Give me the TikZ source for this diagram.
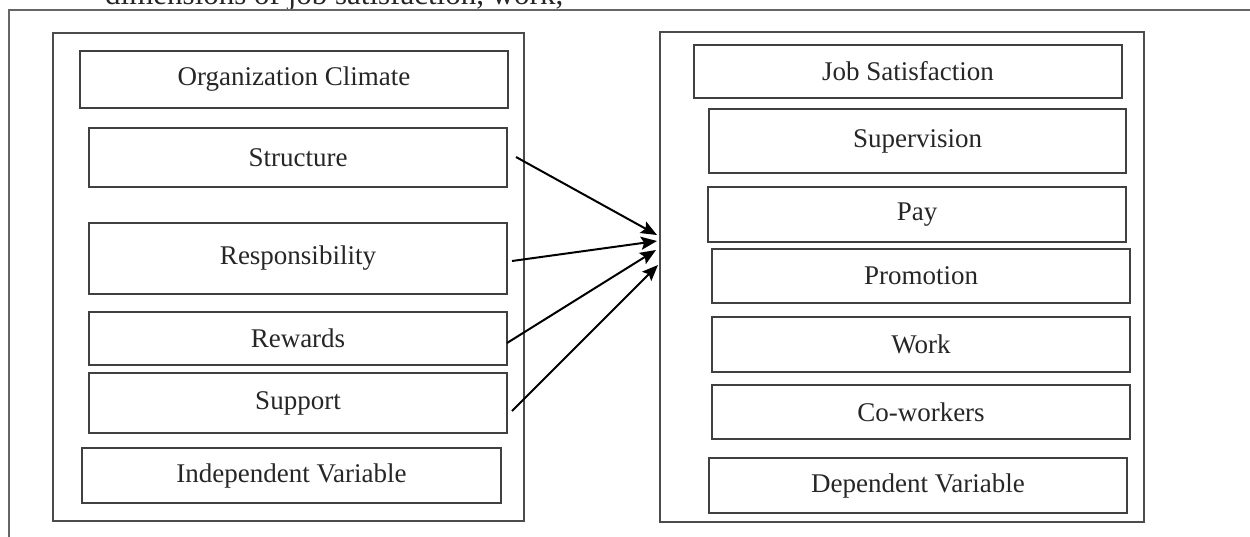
\documentclass[tikz,border=0pt]{standalone}
\usepackage{fontspec}
\setmainfont{Liberation Serif}
\usetikzlibrary{arrows.meta}
\begin{document}
\begin{tikzpicture}[x=1pt,y=-1pt,
  frame/.style={draw=black!70, line width=1.6pt, rectangle, inner sep=0pt, outer sep=0pt},
  box/.style={draw=black!75, line width=1.6pt, rectangle, inner sep=0pt, outer sep=0pt,
    font=\fontsize{27}{30}\selectfont, text=black!85},
  link/.style={draw=black, line width=2pt, -{Stealth[length=16pt,width=13pt,inset=3pt]}}]
\clip (0,0) rectangle (1250,536);
\useasboundingbox (0,0) rectangle (1250,536);
% page fragment
\node[anchor=base west, inner sep=0pt, font=\fontsize{31}{34}\selectfont, text=black!85] (cap) at (105,4.5) {dimensions of job satisfaction, work,};
\draw[black!60, line width=1.5pt] (9,540) -- (9,10) -- (1260,10);
% containers
\node[frame, minimum width=471pt, minimum height=488pt] (leftframe) at (288.5,277) {};
\node[frame, minimum width=484pt, minimum height=490pt] (rightframe) at (902,277) {};
% left boxes
\node[box, minimum width=428pt, minimum height=57pt] (org) at (294,79.5) {Organization Climate};
\node[box, minimum width=418pt, minimum height=59pt] (struct) at (298,157.5) {Structure};
\node[box, minimum width=418pt, minimum height=71pt] (resp) at (298,258.5) {\raisebox{5pt}{Responsibility}};
\node[box, minimum width=418pt, minimum height=53pt] (rew) at (298,338.5) {Rewards};
\node[box, minimum width=418pt, minimum height=60pt] (sup) at (298,403) {Support};
\node[box, minimum width=419pt, minimum height=55pt] (indep) at (291.5,475.5) {Independent Variable};
% right boxes
\node[box, minimum width=428pt, minimum height=53pt] (js) at (908,71.5) {Job Satisfaction};
\node[box, minimum width=417pt, minimum height=64pt] (supv) at (917.5,141) {\raisebox{3pt}{Supervision}};
\node[box, minimum width=418pt, minimum height=55pt] (pay) at (917,214.5) {\raisebox{3pt}{Pay}};
\node[box, minimum width=418pt, minimum height=54pt] (promo) at (921,276) {Promotion};
\node[box, minimum width=418pt, minimum height=55pt] (work) at (921,344.5) {Work};
\node[box, minimum width=418pt, minimum height=54pt] (cow) at (921,412) {Co-workers};
\node[box, minimum width=418pt, minimum height=55pt] (dep) at (918,485.5) {Dependent Variable};
% arrows
\coordinate (a1) at (516,157);
\coordinate (a2) at (512,261);
\coordinate (a3) at (507,343);
\coordinate (a4) at (512,411);
\coordinate (b1) at (657,235);
\coordinate (b2) at (657,241);
\coordinate (b3) at (656,250);
\coordinate (b4) at (658,265);
\draw[link] (a1) -- (b1);
\draw[link] (a2) -- (b2);
\draw[link] (a3) -- (b3);
\draw[link] (a4) -- (b4);
\end{tikzpicture}
\end{document}
